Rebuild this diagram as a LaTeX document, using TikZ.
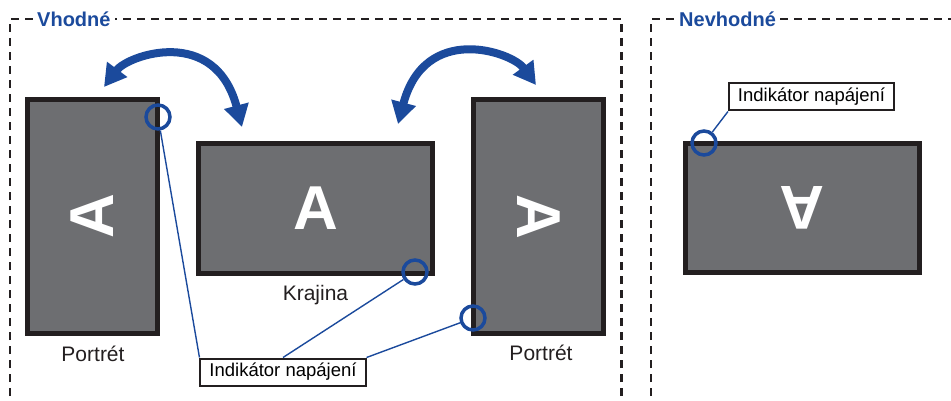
\documentclass[tikz,border=0pt]{standalone}
\usepackage{fontspec}
\setmainfont{Liberation Sans}
\usetikzlibrary{arrows.meta}
\definecolor{ledblue}{HTML}{1B4A9C}
\definecolor{bezel}{HTML}{231F20}
\definecolor{screen}{HTML}{6D6E71}

\begin{document}
\begin{tikzpicture}[x=1pt,y=-1pt,
		frame/.style={draw=bezel,line width=2.5pt,dash pattern=on 8pt off 6pt},
		title/.style={text=ledblue,font=\fontsize{20}{20}\selectfont\bfseries,inner sep=4pt,anchor=west},
		monitor/.style={draw=bezel,fill=screen,line width=5pt,text=white,font=\fontsize{62}{62}\selectfont\bfseries,inner sep=0pt},
		portrait/.style={monitor,minimum width=130pt,minimum height=234pt},
		landscape/.style={monitor,minimum width=234pt,minimum height=129pt},
		led/.style={circle,draw=ledblue,line width=3.5pt,minimum size=24pt,inner sep=0pt},
		callout/.style={draw=bezel,line width=2pt,fill=white,font=\fontsize{18.5}{18.5}\selectfont,inner xsep=9pt,minimum height=27pt},
		caption/.style={font=\fontsize{21}{21}\selectfont,anchor=base,text=bezel},
		lead/.style={ledblue,line width=1.4pt},
		turn/.style={ledblue,line width=8pt,{Triangle[length=22pt,width=24pt]}-{Triangle[length=22pt,width=24pt]}}]
		
		\useasboundingbox (0,0) rectangle (951,401);
		
		\node[title] (good) at (33,19) {Vhodné};
		\node[title] (bad) at (675,19) {Nevhodné};
		
		\draw[frame] (10,410) -- (10,19) -- (good.west);
		\draw[frame] (621.5,410) -- (621.5,19) -- (good.east);
		\draw[frame] (651,410) -- (651,19) -- (bad.west);
		\draw[frame] (bad.east) -- (960,19);
		
		\coordinate (a1) at (104,87);
		\coordinate (a2) at (242,127);
		\coordinate (b1) at (398,124);
		\coordinate (b2) at (536,85);
		
		\draw[turn] (a1) .. controls (128,55) and (215,25) .. (a2);
		\draw[turn] (b1) .. controls (425,22) and (512,52) .. (b2);
		
		\node[portrait] (portL) at (92.5,216.5) {\rotatebox{90}{A}};
		\node[landscape] (land) at (315.5,208.5) {A};
		\node[portrait] (portR) at (538.5,216.5) {\rotatebox{-90}{A}};
		\node[landscape] (flip) at (802.5,208) {\rotatebox{180}{A}};
		
		\node[callout] (ind) at (283,372) {Indikátor napájení};
		\node[callout] (indF) at (811.5,97) {Indikátor napájení};
		
		\node[led] (ledL) at (158,117) {};
		\node[led] (ledK) at (415,272) {};
		\node[led] (ledR) at (473,318) {};
		\node[led] (ledF) at (704,143) {};
		
		\draw[lead] (ledL) -- (ind.north west);
		\draw[lead] (ledK) -- (ind.north);
		\draw[lead] (ledR) -- (ind.north east);
		\draw[lead] (ledF) -- (indF.south west);
		
		\node[caption] (capL) at (93,361.5) {Portrét};
		\node[caption] (capK) at (315.5,300) {Krajina};
		\node[caption] (capR) at (541,360.5) {Portrét};
	\end{tikzpicture}
\end{document}
